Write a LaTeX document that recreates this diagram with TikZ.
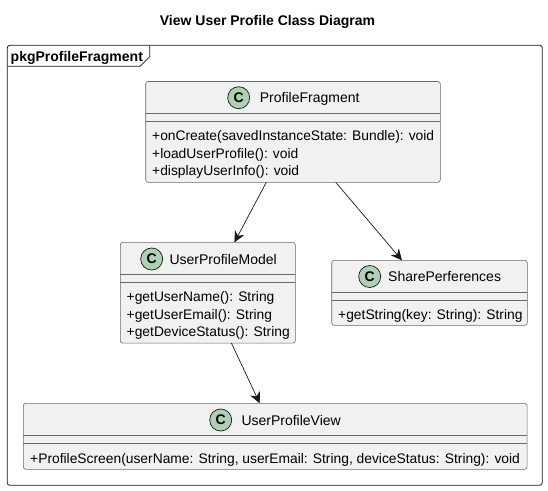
\documentclass[tikz,border=0pt]{standalone}
\usepackage{fontspec}
\setmainfont{Liberation Sans}
\usetikzlibrary{arrows.meta}
\definecolor{boxfill}{HTML}{F1F1F1}
\definecolor{boxline}{HTML}{181818}
\definecolor{spotfill}{HTML}{ADD1B2}
\tikzset{
  classbox/.style={draw=boxline!65, line width=0.6pt, fill=boxfill, rounded corners=2.5pt, inner sep=0pt, outer sep=0pt},
  classline/.style={draw=boxline!65, line width=0.6pt},
  spot/.style={circle, draw=boxline, line width=0.7pt, fill=spotfill, minimum size=22pt, inner sep=0pt, font=\fontsize{14}{14}\selectfont\bfseries},
  classname/.style={anchor=base west, inner sep=0pt, font=\fontsize{14}{14}\selectfont, text=black},
  member/.style={anchor=base west, inner sep=0pt, font=\fontsize{13.83}{14}\selectfont, text=black},
  uses/.style={draw=boxline, line width=0.7pt, -{Stealth[length=11pt, width=10.5pt, inset=3.5pt]}}
}
\begin{document}
\begin{tikzpicture}[x=1pt, y=-1pt]
\useasboundingbox (0,0) rectangle (548,490);
\node[anchor=base, inner sep=0pt, font=\fontsize{14}{14}\selectfont\bfseries] (title) at (267.5,25) {View User Profile Class Diagram};
% package frame
\draw[boxline, line width=0.8pt, rounded corners=2.5pt] (7.3,45.3) rectangle (542.3,485.3);
\draw[boxline, line width=0.8pt] (7.3,66.3) -- (140,66.3) -- (149.7,56.7) -- (149.7,45.3);
\node[anchor=base west, inner sep=0pt, font=\fontsize{14}{14}\selectfont\bfseries] (pkgName) at (10.5,61.5) {pkgProfileFragment};
% classes
\node[classbox, minimum width=294.6pt, minimum height=100.8pt] (fragment) at (293,131.9) {};
\draw[classline] (145.7,113.3) -- (440.3,113.3);
\draw[classline] (145.7,121.3) -- (440.3,121.3);
\node[spot] (fragmentSpot) at (238.7,97.7) {C};
\node[classname] (fragmentName) at (259.7,102.7) {ProfileFragment};
\node[member] (fragmentA) at (152,140) {+onCreate(savedInstanceState: Bundle): void};
\node[member] (fragmentB) at (152,158) {+loadUserProfile(): void};
\node[member] (fragmentC) at (152,175.5) {+displayUserInfo(): void};
\node[classbox, minimum width=175pt, minimum height=100.7pt] (model) at (207.8,292.7) {};
\draw[classline] (120.3,274.3) -- (295.3,274.3);
\draw[classline] (120.3,282.3) -- (295.3,282.3);
\node[spot] (modelSpot) at (151.7,259) {C};
\node[classname] (modelName) at (169.3,264) {UserProfileModel};
\node[member] (modelA) at (126.5,301) {+getUserName(): String};
\node[member] (modelB) at (126.5,319) {+getUserEmail(): String};
\node[member] (modelC) at (126.5,336.5) {+getDeviceStatus(): String};
\node[classbox, minimum width=195.6pt, minimum height=65pt] (share) at (429.5,292.8) {};
\draw[classline] (331.7,292.3) -- (527.3,292.3);
\draw[classline] (331.7,300.3) -- (527.3,300.3);
\node[spot] (shareSpot) at (369.7,276.5) {C};
\node[classname] (shareName) at (388,281.5) {SharePerferences};
\node[member] (shareA) at (338,319.5) {+getString(key: String): String};
\node[classbox, minimum width=503.7pt, minimum height=66pt] (view) at (275.2,436.3) {};
\draw[classline] (23.3,435.3) -- (527,435.3);
\draw[classline] (23.3,443.3) -- (527,443.3);
\node[spot] (viewSpot) at (220.7,420) {C};
\node[classname] (viewName) at (241.3,425) {UserProfileView};
\node[member] (viewA) at (30,463.5) {+ProfileScreen(userName: String, userEmail: String, deviceStatus: String): void};
% arrows
\draw[uses] (fragment) -- (model);
\draw[uses] (fragment) -- (share);
\draw[uses] (model) -- (view);
\end{tikzpicture}
\end{document}
